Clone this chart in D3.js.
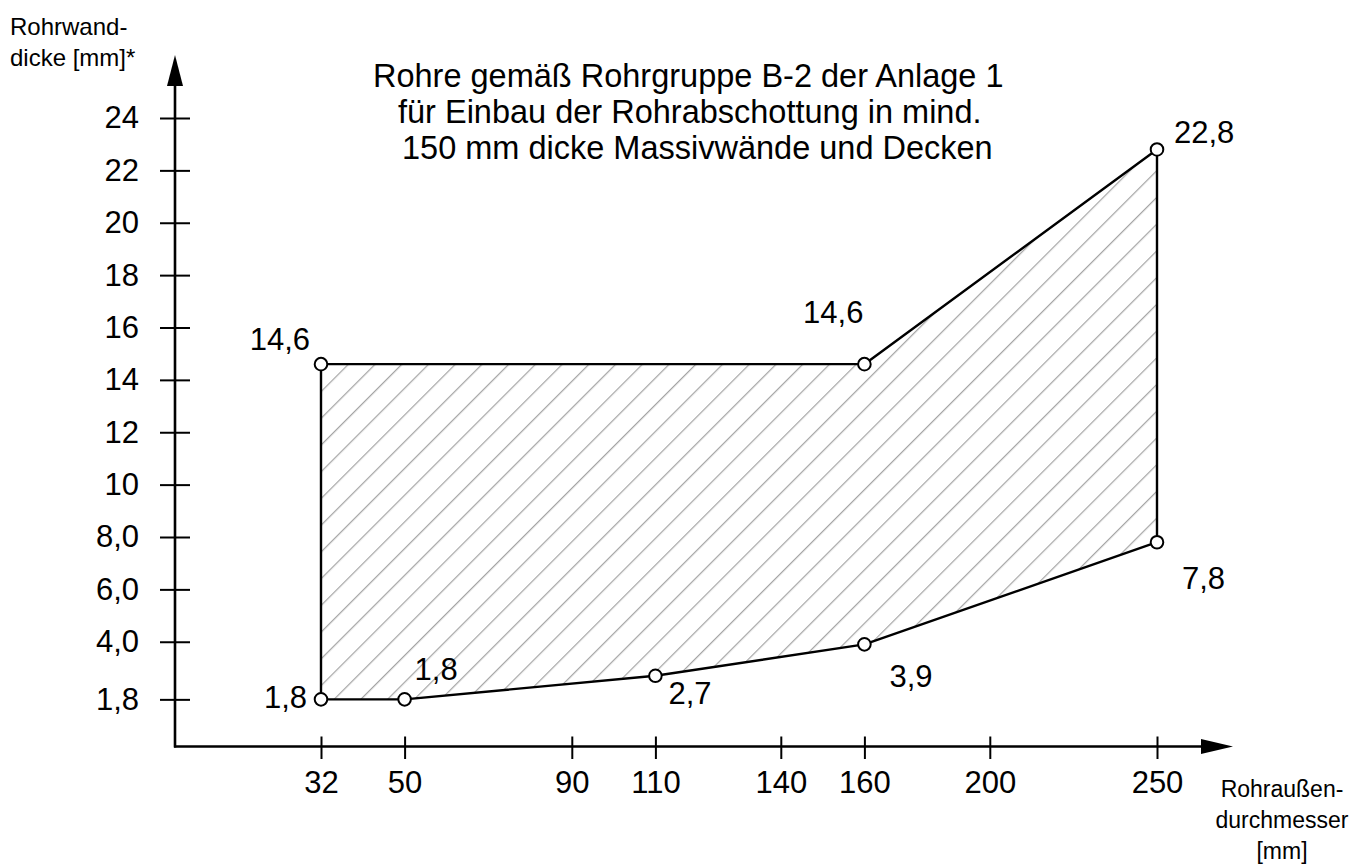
<!DOCTYPE html>
<html>
<head>
<meta charset="utf-8">
<script src="https://cdn.jsdelivr.net/npm/d3@7"></script>
<style>
  body { margin: 0; background: #fff; }
  svg { display: block; font-family: "Liberation Sans", Arial, sans-serif; }
</style>
</head>
<body>
<div id="chart"></div>
<script>
// data
var xTicks = [32, 50, 90, 110, 140, 160, 200, 250];
var xTickLabels = ["32", "50", "90", "110", "140", "160", "200", "250"];
var yTicks = [1.8, 4, 6, 8, 10, 12, 14, 16, 18, 20, 22, 24];
var yTickLabels = ["1,8", "4,0", "6,0", "8,0", "10", "12", "14", "16", "18", "20", "22", "24"];
var outlineX = [32, 50, 110, 160, 250, 250, 160, 32];
var outlineY = [1.8, 1.8, 2.7, 3.9, 7.8, 22.8, 14.6, 14.6];
var pointLabels = ["1,8", "1,8", "2,7", "3,9", "7,8", "22,8", "14,6", "14,6"];
var titleLines = [
	"Rohre gemäß Rohrgruppe B-2 der Anlage 1",
	"für Einbau der Rohrabschottung in mind.",
	"150 mm dicke Massivwände und Decken"
];
var yAxisTitle = ["Rohrwand-", "dicke [mm]*"];
var xAxisTitle = ["Rohraußen-", "durchmesser", "[mm]"];

// layout
var svgWidth = 1361;
var svgHeight = 865;
var originX = 175;
var originY = 746.5;
// the x axis is not linear: grid slots of each tick in the drawing
var xSlots = [0, 2, 6, 8, 11, 13, 16, 20];
// label placement next to each point: dx, dy, anchor
var labelOffset = [
	[-14, 9, "end"], [10, -19, "start"], [13, 28, "start"], [25, 43, "start"],
	[25, 47, "start"], [17, -6, "start"], [-1, -41, "end"], [-11, -14, "end"]
];
var titleX = [373, 398, 402];

var svg = d3.select("#chart")
		.append("svg")
		.attr("width", svgWidth)
		.attr("height", svgHeight);

var slot = d3.scaleLinear().domain([0, 20]).range([321, 1157]);

var x = d3.scaleLinear()
	.domain(xTicks)
	.range(xSlots.map(function(s) { return slot(s); }));

var y = d3.scaleLinear()
	.domain([0, 24])
	.range([originY, 118]);

// hatch pattern
var defs = svg.append("defs");
var pat = defs.append("pattern")
	.attr("id", "hatch")
	.attr("patternUnits", "userSpaceOnUse")
	.attr("width", 18.9)
	.attr("height", 18.9)
	.attr("patternTransform", "rotate(45)");
pat.append("line")
	.attr("x1", 12.6).attr("y1", -2)
	.attr("x2", 12.6).attr("y2", 21)
	.attr("stroke", "#9a9a9a")
	.attr("stroke-width", 1.1);

var pts = outlineX.map(function(v, i) { return [x(v), y(outlineY[i])]; });

svg.append("path")
	.attr("d", "M" + pts.join("L") + "Z")
	.attr("fill", "url(#hatch)")
	.attr("stroke", "#000")
	.attr("stroke-width", 2.4)
	.attr("stroke-linejoin", "round");

// axes
var gx = svg.append("g")
	.attr("transform", "translate(0," + originY + ")")
	.call(d3.axisBottom(x)
		.tickValues(xTicks)
		.tickFormat(function(d, i) { return xTickLabels[i]; })
		.tickSize(12.5)
		.tickPadding(12));
gx.select(".domain").remove();
gx.selectAll(".tick line")
	.attr("y1", -10)
	.attr("stroke", "#000")
	.attr("stroke-width", 2);
gx.selectAll(".tick text")
	.attr("fill", "#000")
	.style("font-size", "31px")
	.style("font-family", "'Liberation Sans', Arial, sans-serif");

var gy = svg.append("g")
	.attr("transform", "translate(" + originX + ",0)")
	.call(d3.axisLeft(y)
		.tickValues(yTicks)
		.tickFormat(function(d, i) { return yTickLabels[i]; })
		.tickSize(15)
		.tickPadding(21));
gy.select(".domain").remove();
gy.selectAll(".tick line")
	.attr("x1", 15)
	.attr("stroke", "#000")
	.attr("stroke-width", 2);
gy.selectAll(".tick text")
	.attr("fill", "#000")
	.style("font-size", "31px")
	.style("font-family", "'Liberation Sans', Arial, sans-serif");

// axis lines with arrow heads
svg.append("line")
	.attr("x1", originX).attr("y1", originY + 1)
	.attr("x2", originX).attr("y2", 80)
	.attr("stroke", "#000").attr("stroke-width", 2.6);
svg.append("path")
	.attr("d", "M" + originX + ",55L" + (originX - 8) + ",86L" + (originX + 8) + ",86Z")
	.attr("fill", "#000");

svg.append("line")
	.attr("x1", originX - 1).attr("y1", originY)
	.attr("x2", 1205).attr("y2", originY)
	.attr("stroke", "#000").attr("stroke-width", 2.6);
svg.append("path")
	.attr("d", "M1233," + originY + "L1201," + (originY - 7.5) + "L1201," + (originY + 7.5) + "Z")
	.attr("fill", "#000");

// points
svg.selectAll("circle.pt")
	.data(pts)
	.enter().append("circle")
	.attr("class", "pt")
	.attr("cx", function(d) { return d[0]; })
	.attr("cy", function(d) { return d[1]; })
	.attr("r", 6.3)
	.attr("fill", "#fff")
	.attr("stroke", "#000")
	.attr("stroke-width", 2);

svg.selectAll("text.pl")
	.data(pts)
	.enter().append("text")
	.attr("class", "pl")
	.attr("x", function(d, i) { return d[0] + labelOffset[i][0]; })
	.attr("y", function(d, i) { return d[1] + labelOffset[i][1]; })
	.attr("text-anchor", function(d, i) { return labelOffset[i][2]; })
	.style("font-size", "31px")
	.text(function(d, i) { return pointLabels[i]; });

// title
svg.selectAll("text.title")
	.data(titleLines)
	.enter().append("text")
	.attr("class", "title")
	.attr("x", function(d, i) { return titleX[i]; })
	.attr("y", function(d, i) { return 87 + i * 36; })
	.style("font-size", "32.5px")
	.text(function(d) { return d; });

// axis titles
svg.selectAll("text.ytitle")
	.data(yAxisTitle)
	.enter().append("text")
	.attr("class", "ytitle")
	.attr("x", 10)
	.attr("y", function(d, i) { return 35 + i * 31; })
	.style("font-size", "24px")
	.text(function(d) { return d; });

svg.selectAll("text.xtitle")
	.data(xAxisTitle)
	.enter().append("text")
	.attr("class", "xtitle")
	.attr("x", 1282)
	.attr("y", function(d, i) { return 797 + i * 31; })
	.attr("text-anchor", "middle")
	.style("font-size", "23px")
	.text(function(d) { return d; });
</script>
</body>
</html>
